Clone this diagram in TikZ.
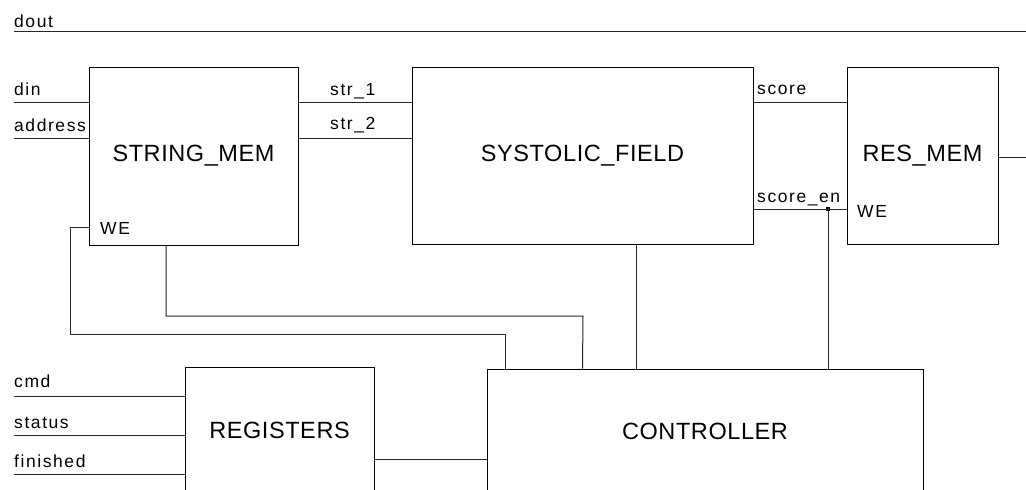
\documentclass[tikz,border=0pt]{standalone}
\usepackage{fontspec}
\setmainfont{Liberation Sans}
\newfontfamily\lblfont{Liberation Sans}[LetterSpace=9]
\newfontfamily\ttlfont{Liberation Sans}[LetterSpace=2.5]
\usetikzlibrary{positioning,calc}
\tikzset{
  blk/.style={draw,line width=1pt,inner sep=0pt,font=\ttlfont\fontsize{23.5}{26}\selectfont},
  lbl/.style={anchor=base west,inner sep=0pt,font=\lblfont\fontsize{17.5}{19}\selectfont},
  wire/.style={line width=1pt,draw=black!85},
  jdot/.style={rectangle,fill=black,inner sep=0pt,minimum size=4.5pt}
}
\begin{document}
\begin{tikzpicture}[x=1pt,y=-1pt]
\useasboundingbox[fill=white] (0,0) rectangle (1026,490);
\node[blk,minimum width=209pt,minimum height=178pt] (smem) at (193.5,156) {STRING\_MEM};
\node[blk,minimum width=341pt,minimum height=177pt] (sysf) at (582.5,155.5) {SYSTOLIC\_FIELD};
\node[blk,minimum width=151pt,minimum height=177pt] (resm) at (922.5,155.5) {RES\_MEM};
\node[blk,minimum width=189pt,minimum height=126pt] (regs) at (279.5,430) {REGISTERS};
\node[blk,minimum width=436pt,minimum height=124pt] (ctrl) at (705,431) {CONTROLLER};
\node[jdot] (jn) at (828,209) {};
\coordinate (doutL) at (14,31); \coordinate (doutR) at (1026,31);
\coordinate (dinL) at (14,102); \coordinate (adrL) at (14,138);
\coordinate (cmdL) at (14,396); \coordinate (statL) at (14,435); \coordinate (finL) at (14,474);
\node[lbl] (ldout) at (14,27) {dout};
\node[lbl] (ldin) at (14,95) {din};
\node[lbl] (laddr) at (14,131) {address};
\node[lbl] (lstr1) at (330,95) {str\_1};
\node[lbl] (lstr2) at (330,129) {str\_2};
\node[lbl] (lscore) at (757,94) {score};
\node[lbl] (lscen) at (757,202) {score\_en};
\node[lbl] (lwe1) at (100,234) {WE};
\node[lbl] (lwe2) at (857,217) {WE};
\node[lbl] (lcmd) at (14,387) {cmd};
\node[lbl] (lstat) at (14,428) {status};
\node[lbl] (lfin) at (14,467) {finished};
\draw[wire] (doutL)--(doutR);
\draw[wire] (dinL)--(dinL -| smem.west);\draw[wire] (adrL)--(adrL -| smem.west);
\draw[wire] (smem.east |- dinL)--(sysf.west |- dinL);\draw[wire] (smem.east |- adrL)--(sysf.west |- adrL);
\draw[wire] (sysf.east |- dinL)--(resm.west |- dinL);
\draw[wire] (sysf.east |- jn)--(resm.west |- jn);\draw[wire] (jn)--(jn |- ctrl.north);
\draw[wire] (resm.east |- 0,157)--(doutR |- 0,157);
\draw[wire] (smem.west |- 0,227) -| (70,334) -| ([xshift=19pt]ctrl.north west);
\draw[wire] ([xshift=-27.5pt]smem.south) |- (583,316) -- ([xshift=96pt]ctrl.north west);
\draw[wire] ([xshift=53.5pt]sysf.south)--([xshift=53.5pt]sysf.south |- ctrl.north);
\draw[wire] (cmdL)--(cmdL -| regs.west);\draw[wire] (statL)--(statL -| regs.west);\draw[wire] (finL)--(finL -| regs.west);
\draw[wire] (regs.east |- 0,459)--(ctrl.west |- 0,459);
\end{tikzpicture}
\end{document}
